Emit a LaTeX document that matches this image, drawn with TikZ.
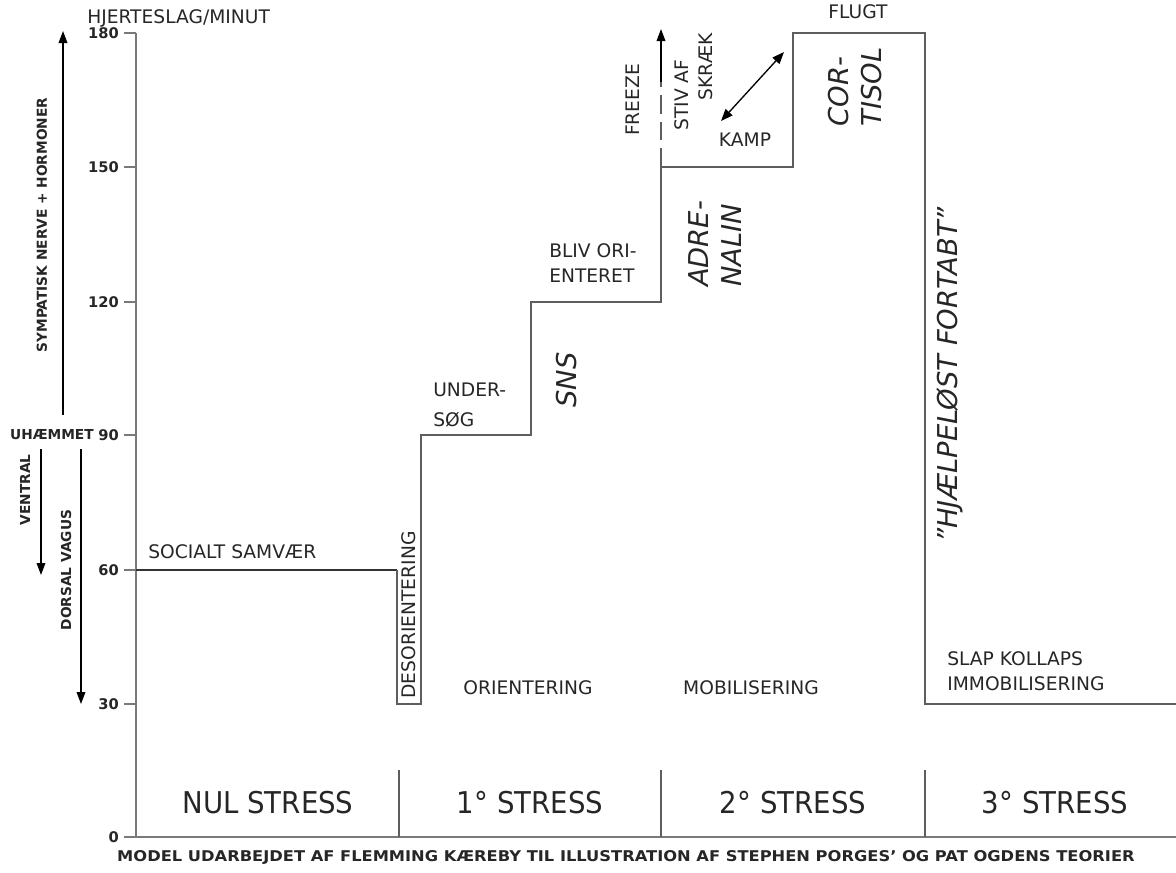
\documentclass[tikz,border=0pt]{standalone}
\usepackage{fontspec}
\setmainfont{DejaVu Sans}
\newfontfamily\stressfont[FakeStretch=0.92]{DejaVu Sans}
\newfontfamily\capfont[FakeStretch=1.1]{DejaVu Sans}
\usetikzlibrary{arrows.meta}
\definecolor{axisgray}{HTML}{7A7A7A}
\definecolor{stepgray}{HTML}{5E5E5E}
\definecolor{txt}{HTML}{262626}
\begin{document}
\begin{tikzpicture}[x=0.75pt,y=-0.75pt,
  lbl/.style={text=txt, inner sep=0pt, font=\fontsize{14}{18}\selectfont},
  ticklbl/.style={text=txt, inner sep=0pt, anchor=east, font=\bfseries\fontsize{11}{12}\selectfont},
  sidelbl/.style={text=txt, inner sep=0pt, font=\bfseries\fontsize{10.3}{12}\selectfont},
  biglbl/.style={text=txt, inner sep=0pt, rotate=90, align=left, font=\itshape\fontsize{20.5}{25}\selectfont},
  stresslbl/.style={text=txt, inner sep=0pt, font=\stressfont\fontsize{22.5}{26}\selectfont},
  arr/.style={-{Triangle[length=9pt,width=6.5pt]}, line width=1pt, black}
]
\useasboundingbox (0,0) rectangle (1176,872);

% axes
\draw[axisgray, line width=1.3pt] (136,33) -- (136,837) -- (1176,837);
\foreach \v/\yy in {180/33,150/167,120/302,90/435,60/570,30/704,0/837}{
  \draw[axisgray, line width=1pt] (124,\yy) -- (136,\yy);
  \node[ticklbl] (t\v) at (119,\yy) {\v};
}
\node[lbl, anchor=west] (hj) at (87,18) {HJERTESLAG/MINUT};

% stress separators
\foreach \xx in {399,661,925}{
  \draw[stepgray, line width=0.9pt] (\xx,770) -- (\xx,837);
}
\node[stresslbl] (s0) at (268,803) {NUL STRESS};
\node[stresslbl] (s1) at (530,803) {1° STRESS};
\node[stresslbl] (s2) at (793,803) {2° STRESS};
\node[stresslbl] (s3) at (1055,803) {3° STRESS};

% step curve
\draw[black!80, line width=1pt] (136,570) -- (397,570);
\draw[stepgray, line width=1.2pt] (397,570) -- (397,704) -- (421,704) -- (421,435) -- (531,435) -- (531,302)
  -- (661,302) -- (661,167) -- (793,167) -- (793,33) -- (925,33) -- (925,704) -- (1176,704);

% labels on curve
\node[lbl, anchor=west] (soc) at (148,552) {SOCIALT SAMVÆR};
\node[lbl, rotate=90] (des) at (409,615) {DESORIENTERING};
\node[lbl, anchor=north west, align=left] (und) at (433,383) {UNDER-\\[4pt]SØG};
\node[lbl, anchor=north west, align=left] (bliv) at (549,243) {BLIV ORI-\\[1pt]ENTERET};
\node[lbl] (ori) at (528,688) {ORIENTERING};
\node[lbl] (mob) at (751,688) {MOBILISERING};
\node[lbl, anchor=north west, align=left] (slap) at (947,651) {SLAP KOLLAPS\\[1pt]IMMOBILISERING};
\node[lbl] (flugt) at (858,12) {FLUGT};
\node[lbl] (kamp) at (745,140) {KAMP};
\node[lbl, rotate=90] (frz) at (633,100) {FREEZE};
\node[lbl, rotate=90] (stiv) at (682,95) {STIV AF};
\node[lbl, rotate=90] (skr) at (706,67) {SKRÆK};

% freeze arrow
\coordinate (fz0) at (661,167);
\coordinate (fz1) at (661,82);
\coordinate (fz2) at (661,29);
\draw[stepgray, line width=1.2pt, dash pattern=on 14pt off 6pt] (fz0) -- (fz1);
\draw[arr] (fz1) -- (fz2);

% kamp / flugt arrow
\coordinate (ka) at (721,121);
\coordinate (fl) at (784,52);
\draw[{Triangle[length=9pt,width=7pt]}-{Triangle[length=9pt,width=7pt]}, line width=1pt, black] (ka) -- (fl);

% big italic labels
\node[biglbl] (sns) at (567,380) {SNS};
\node[biglbl] (adr) at (715,244) {ADRE-\\NALIN};
\node[biglbl] (cor) at (855,87) {COR-\\TISOL};
\node[biglbl] (hjl) at (950,375) {"HJÆLPELØST FORTABT”};

% left side
\coordinate (sy0) at (63,415);
\coordinate (sy1) at (63,31);
\draw[arr] (sy0) -- (sy1);
\node[sidelbl, rotate=90] (sym) at (42,225) {SYMPATISK NERVE + HORMONER};
\node[sidelbl, anchor=east] (uh) at (94,435) {UHÆMMET};
\coordinate (v0) at (41,449);
\coordinate (v1) at (41,575);
\draw[arr] (v0) -- (v1);
\node[sidelbl, rotate=90] (ven) at (25,490) {VENTRAL};
\coordinate (d0) at (81,449);
\coordinate (d1) at (81,704);
\draw[arr] (d0) -- (d1);
\node[sidelbl, rotate=90] (dor) at (66,570) {DORSAL VAGUS};

% caption
\node[text=txt, inner sep=0pt, font=\capfont\bfseries\fontsize{11.1}{13}\selectfont] (cap) at (626,857)
  {MODEL UDARBEJDET AF FLEMMING KÆREBY TIL ILLUSTRATION AF STEPHEN PORGES’ OG PAT OGDENS TEORIER};
\end{tikzpicture}
\end{document}
